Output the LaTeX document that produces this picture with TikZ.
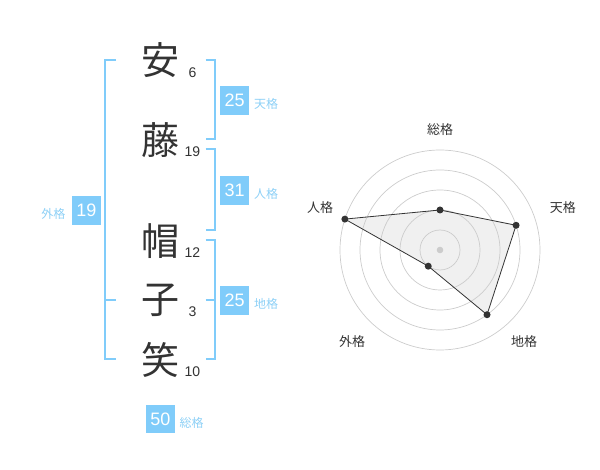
\documentclass[tikz,border=0pt]{standalone}
\usepackage{fontspec}
\setmainfont{Liberation Sans}
\newfontfamily\cjk{Noto Sans CJK JP}
\definecolor{ink}{HTML}{333333}
\definecolor{kakublue}{HTML}{80CCFA}
\definecolor{kakutext}{HTML}{8DD0F6}
\definecolor{ringgray}{HTML}{CCCCCC}
\definecolor{areagray}{HTML}{F0F0F0}

\begin{document}
\begin{tikzpicture}[x=1pt, y=-1pt,
    kanji/.style = {font=\cjk\fontsize{38}{38}\selectfont, text=ink,
      inner sep=0pt},
    strokes/.style = {font=\fontsize{14}{14}\selectfont, text=ink,
      inner sep=0pt},
    bracket/.style = {draw=kakublue, line width=2pt},
    kbox/.style = {rectangle, fill=kakublue, text=white, minimum
      size=28.5pt, inner sep=0pt, font=\fontsize{18}{18}\selectfont},
    klabel/.style = {font=\cjk\fontsize{12}{12}\selectfont,
      text=kakutext, inner sep=0pt},
    ring/.style = {draw=ringgray, line width=0.7pt},
    dot/.style = {circle, fill=ink, inner sep=0pt, minimum size=7pt},
    axis/.style = {font=\cjk\fontsize{13}{13}\selectfont, text=ink,
      inner sep=0pt}]
  \useasboundingbox (0,0) rectangle (600,470);
  % name and stroke counts
  \foreach \k/\y/\n [count=\i] in {安/60.5/6, 藤/140/19, 帽/241/12,
    子/300/3, 笑/360/10} {
    \node[kanji] (k\i) at (160,\y) {\k};
    \node[strokes] (n\i) at (192.5,\y+12) {\n};
  }
  % brackets
  \draw[bracket] (116,60) -- (105,60) -- (105,359.5) -- (116,359.5);
  \draw[bracket] (105,300) -- (116,300);
  \draw[bracket] (205.5,60) -- (214.5,60) -- (214.5,139.5) -- (205.5,139.5);
  \draw[bracket] (205.5,149.5) -- (214.5,149.5) -- (214.5,230) -- (205.5,230);
  \draw[bracket] (205.5,240) -- (214.5,240) -- (214.5,359.5) -- (205.5,359.5);
  \draw[bracket] (205.5,300) -- (214.5,300);
  % scores
  \node[kbox] (ten) at (234.7,100.3) {25};
  \node[klabel] (ten-l) at (266,104) {天格};
  \node[kbox] (jin) at (234.7,190.3) {31};
  \node[klabel] (jin-l) at (266,194) {人格};
  \node[kbox] (chi) at (234.7,300.3) {25};
  \node[klabel] (chi-l) at (266,304) {地格};
  \node[kbox] (gai) at (86.3,210.5) {19};
  \node[klabel] (gai-l) at (53.5,213.5) {外格};
  \node[kbox] (sou) at (160.3,419) {50};
  \node[klabel] (sou-l) at (191.7,422.7) {総格};
  % radar chart
  \begin{scope}[shift={(440,250)}, y=1pt]
    \foreach \a/\v/\nm in {90/40/sou, 18/80/ten, -54/80/chi,
      -126/20/gai, 162/100/jin}
    \coordinate (p-\nm) at (\a:\v);
    \fill[areagray] (p-sou) -- (p-ten) -- (p-chi) -- (p-gai) --
    (p-jin) -- cycle;
    \foreach \r in {20, 40, ..., 100}
    \draw[ring] (0,0) circle[radius=\r];
    \fill[ringgray] (0,0) circle[radius=3.3];
    \draw[ink, line width=0.8pt] (p-sou) -- (p-ten) -- (p-chi) --
    (p-gai) -- (p-jin) -- cycle;
    \foreach \nm in {sou, ten, chi, gai, jin}
    \node[dot] (d-\nm) at (p-\nm) {};
    \node[axis] (a-sou) at (90:120) {総格};
    \node[axis] (a-ten) at (18.9:130) {天格};
    \node[axis] (a-chi) at (-47.6:124.6) {地格};
    \node[axis] (a-gai) at (-133.7:127.3) {外格};
    \node[axis] (a-jin) at (160.7:127) {人格};
  \end{scope}
\end{tikzpicture}
\end{document}
